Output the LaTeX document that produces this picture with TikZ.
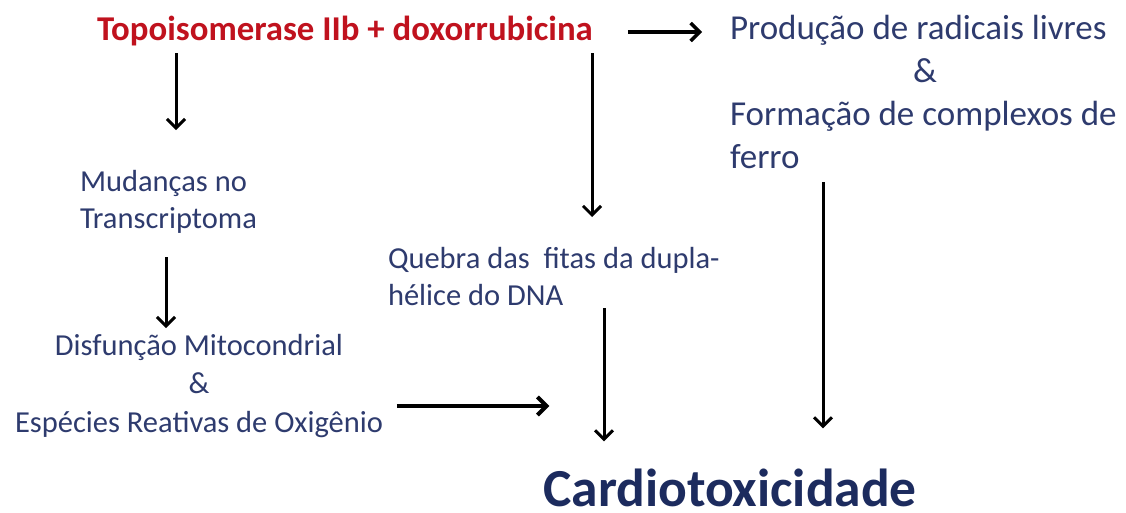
\documentclass[tikz,border=0pt]{standalone}
\usepackage{fontspec}
\setmainfont{Carlito}
\usetikzlibrary{arrows.meta}
\definecolor{tred}{HTML}{C0121E}
\definecolor{tblue}{HTML}{2E3B6E}
\definecolor{cblue}{HTML}{1C2B5E}
\begin{document}
\begin{tikzpicture}[x=1pt,y=-1pt,
  every node/.style={inner sep=0pt, outer sep=0pt},
  ttl/.style={text=tred, font=\bfseries\fontsize{34.8}{40}\selectfont},
  txtbig/.style={text=tblue, font=\fontsize{35}{43}\selectfont},
  txtmid/.style={text=tblue, font=\fontsize{30.5}{37}\selectfont},
  res/.style={text=cblue, font=\bfseries\fontsize{53.5}{60}\selectfont},
  arr/.style={draw=black, line width=3pt, -{Straight Barb[length=9pt,width=18pt]}}]
\useasboundingbox[fill=white] (0,0) rectangle (1126,512);

\node[ttl, anchor=base west] (top) at (97,40) {Topoisomerase IIb + doxorrubicina};
\node[txtbig, anchor=north west, align=left] (rad) at (730,15.5)
  {Produção de radicais livres\\\hspace*{183pt}\&\\Formação de complexos de\\ferro};
\node[txtmid, anchor=north west, align=left] (mud) at (80,170)
  {Mudanças no\\Transcriptoma};
\node[txtmid, anchor=north, align=center, font=\fontsize{30.5}{38.5}\selectfont] (dis) at (199,334)
  {Disfunção Mitocondrial\\\&\\Espécies Reativas de Oxigênio};
\node[txtmid, anchor=north west, align=left] (que) at (388,247)
  {Quebra das\ \ fitas da dupla-\\hélice do DNA};
\node[res, anchor=base] (car) at (730,506) {Cardiotoxicidade};

\draw[arr, shorten <=8pt, shorten >=40pt] (top.south -| 176,0) -- (mud.north -| 176,0);
\draw[arr, shorten <=8pt, shorten >=30pt] (top.south -| 592,0) -- (que.north -| 592,0);
\draw[arr, line width=3.5pt, shorten <=35pt, shorten >=28pt] (top.east |- 0,32) -- (rad.west |- 0,32);
\draw[arr, shorten <=24pt, shorten >=6pt] (mud.south -| 166,0) -- (dis.north -| 166,0);
\draw[arr, line width=4pt, shorten <=14pt, shorten >=-6pt] (dis.east |- 0,406) -- (car.west |- 0,406);
\draw[arr, shorten <=3pt, shorten >=27pt] (que.south -| 604,0) -- (car.north -| 604,0);
\draw[arr, shorten <=13pt, shorten >=40pt] (rad.south -| 823,0) -- (car.north -| 823,0);
\end{tikzpicture}
\end{document}
